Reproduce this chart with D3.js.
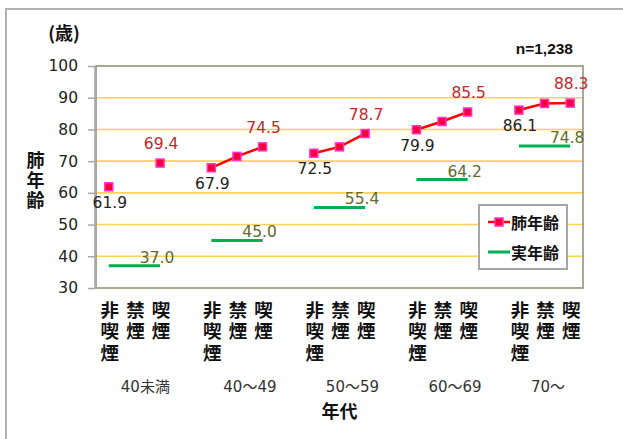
<!DOCTYPE html>
<html>
<head>
<meta charset="utf-8">
<script src="https://cdn.jsdelivr.net/npm/d3@7"></script>
<style>
  body { margin: 0; background: #fff; }
  svg { display: block; }
</style>
</head>
<body>
<svg id="chart" width="623" height="439"></svg>
<script>
// Lung age vs. actual age by age group and smoking status
const ageGroups = ["40未満", "40～49", "50～59", "60～69", "70～"];
const smokingStatus = ["非喫煙", "禁煙", "喫煙"];
// lung age, three values (非喫煙, 禁煙, 喫煙) per age group; null = not shown
const lungAge = [
  61.9, null, 69.4,
  67.9, 71.5, 74.5,
  72.5, 74.5, 78.7,
  79.9, 82.5, 85.5,
  86.1, 88.2, 88.3
];
// actual (real) mean age per age group
const realAge = [37.0, 45.0, 55.4, 64.2, 74.8];
const yTicks = [30, 40, 50, 60, 70, 80, 90, 100];
const gridTicks = [40, 50, 60, 70, 80, 90];
const sampleNote = "n=1,238";

const svg = d3.select("#chart");
const NUM_FONT = "'DejaVu Sans', 'Noto Sans CJK JP', sans-serif";
const JP_FONT = "'Noto Sans CJK JP', 'DejaVu Sans', sans-serif";

const plot = { left: 96, right: 583, top: 66, bottom: 288 };

// outer frame of the figure
svg.append("rect")
  .attr("x", 6).attr("y", 9).attr("width", 700).attr("height", 500)
  .attr("fill", "#fff").attr("stroke", "#b3b3b3").attr("stroke-width", 2);

// category slots: three statuses per group, with a blank slot between groups
const slots = [];
ageGroups.forEach((g, gi) => {
  smokingStatus.forEach(s => slots.push(g + "|" + s));
  if (gi < ageGroups.length - 1) slots.push(g + "|gap");
});

const x = d3.scaleBand().domain(slots).range([plot.left, plot.right]).padding(0);
const cx = key => x(key) + x.bandwidth() / 2;
const y = d3.scaleLinear().domain([30, 100]).range([plot.bottom, plot.top]);

// vertical (top-to-bottom) text; (x0, top) is the centre line and top edge
function verticalText(sel, str, x0, top, fontSize, step) {
  return sel.append("text")
    .attr("x", x0).attr("y", top)
    .attr("writing-mode", "vertical-rl")
    .attr("text-anchor", "start").attr("dominant-baseline", "central")
    .style("letter-spacing", (step - fontSize) + "px")
    .attr("font-size", fontSize + "px")
    .text(str);
}

// grid lines
svg.append("g").selectAll("line").data(gridTicks).join("line")
  .attr("x1", plot.left).attr("x2", plot.right)
  .attr("y1", d => y(d)).attr("y2", d => y(d))
  .attr("stroke", "#ffd05a").attr("stroke-width", 1.6);

// plot area border
svg.append("rect")
  .attr("x", plot.left).attr("y", plot.top)
  .attr("width", plot.right - plot.left).attr("height", plot.bottom - plot.top)
  .attr("fill", "none").attr("stroke", "#8f8a72").attr("stroke-width", 1.5);

// y axis
const yAxis = svg.append("g")
  .attr("transform", `translate(${plot.left - 1},0)`)
  .call(d3.axisLeft(y).tickValues(yTicks).tickSize(7).tickPadding(10).tickSizeOuter(0));
yAxis.select(".domain").attr("stroke", "#a6a6a6").attr("stroke-width", 2.5);
yAxis.selectAll(".tick line").attr("stroke", "#a6a6a6").attr("stroke-width", 1.5);
yAxis.selectAll(".tick text")
  .attr("font-family", NUM_FONT).attr("font-size", "15.5px").attr("fill", "#222");

// records for the lung-age series
const records = [];
ageGroups.forEach((g, gi) => {
  smokingStatus.forEach((s, si) => {
    records.push({ g, gi, s, si, key: g + "|" + s, v: lungAge[gi * 3 + si] });
  });
});

// actual-age segments, one per group
ageGroups.forEach((g, gi) => {
  const first = g + "|" + smokingStatus[0];
  const last = g + "|" + smokingStatus[smokingStatus.length - 1];
  svg.append("line")
    .attr("x1", cx(first)).attr("x2", cx(last))
    .attr("y1", y(realAge[gi])).attr("y2", y(realAge[gi]))
    .attr("stroke", "#00b050").attr("stroke-width", 3);
  svg.append("text")
    .attr("x", cx(last) - 3).attr("y", y(realAge[gi]) - 8)
    .attr("text-anchor", "middle").attr("dominant-baseline", "central")
    .attr("font-family", NUM_FONT).attr("font-size", "15.5px").attr("fill", "#5e6b2b")
    .text(realAge[gi].toFixed(1));
});

// lung-age lines, one per group
const line = d3.line().defined(d => d.v != null).x(d => cx(d.key)).y(d => y(d.v));
ageGroups.forEach((g, gi) => {
  svg.append("path")
    .datum(records.filter(r => r.gi === gi))
    .attr("d", line)
    .attr("fill", "none").attr("stroke", "#ff0000").attr("stroke-width", 2.5);
});

// markers
svg.append("g").selectAll("rect").data(records.filter(r => r.v != null)).join("rect")
  .attr("x", d => cx(d.key) - 4).attr("y", d => y(d.v) - 4)
  .attr("width", 8).attr("height", 8)
  .attr("fill", "#f5003a").attr("stroke", "#ff33cc").attr("stroke-width", 1.5);

// value labels: first status below in black, last status above in red
records.filter(r => r.v != null && r.si !== 1).forEach(r => {
  const below = r.si === 0;
  svg.append("text")
    .attr("x", cx(r.key) + 1).attr("y", y(r.v) + (below ? 16 : -19))
    .attr("text-anchor", "middle").attr("dominant-baseline", "central")
    .attr("font-family", NUM_FONT).attr("font-size", "15.5px")
    .attr("fill", below ? "#222" : "#c4262e")
    .text(r.v.toFixed(1));
});

// x category labels, written vertically
const catLabels = svg.append("g")
  .attr("font-family", JP_FONT).attr("font-weight", "bold").attr("fill", "#111");
records.forEach(r => verticalText(catLabels, r.s, cx(r.key) + 1, 301, 18.5, 21.2));

// age group labels
ageGroups.forEach(g => {
  svg.append("text")
    .attr("x", cx(g + "|" + smokingStatus[0]) + 12).attr("y", 387)
    .attr("dominant-baseline", "central")
    .attr("font-family", NUM_FONT).attr("font-size", "15px").attr("fill", "#333")
    .text(g);
});

// axis titles
svg.append("text")
  .attr("x", (plot.left + plot.right) / 2).attr("y", 410)
  .attr("text-anchor", "middle").attr("dominant-baseline", "central")
  .attr("font-family", JP_FONT).attr("font-size", "18px").attr("font-weight", "bold")
  .attr("fill", "#111").text("年代");

const yTitle = svg.append("g")
  .attr("font-family", JP_FONT).attr("font-weight", "bold").attr("fill", "#111");
verticalText(yTitle, "肺年齢", 35.5, 151, 18, 20);

svg.append("text")
  .attr("x", 64).attr("y", 32)
  .attr("text-anchor", "middle").attr("dominant-baseline", "central")
  .attr("font-family", JP_FONT).attr("font-size", "18px").attr("font-weight", "bold")
  .attr("fill", "#111").text("(歳)");

svg.append("text")
  .attr("x", 573).attr("y", 48.5)
  .attr("text-anchor", "end").attr("dominant-baseline", "central")
  .attr("font-family", "'Liberation Sans', Arial, sans-serif").attr("font-size", "15.5px")
  .attr("font-weight", "bold").attr("fill", "#111").text(sampleNote);

// legend
const legend = svg.append("g");
legend.append("rect")
  .attr("x", 479).attr("y", 205).attr("width", 88).attr("height", 64)
  .attr("fill", "#fff").attr("stroke", "#a6a6a6").attr("stroke-width", 2);
const legendItems = [
  { label: "肺年齢", color: "#ff0000", marker: true, yy: 222 },
  { label: "実年齢", color: "#00b050", marker: false, yy: 252 }
];
legendItems.forEach(it => {
  legend.append("line")
    .attr("x1", 488).attr("x2", 510).attr("y1", it.yy).attr("y2", it.yy)
    .attr("stroke", it.color).attr("stroke-width", it.marker ? 2.5 : 3);
  if (it.marker) {
    legend.append("rect")
      .attr("x", 495).attr("y", it.yy - 4).attr("width", 8).attr("height", 8)
      .attr("fill", "#f5003a").attr("stroke", "#ff33cc").attr("stroke-width", 1.5);
  }
  legend.append("text")
    .attr("x", 511).attr("y", it.yy)
    .attr("dominant-baseline", "central")
    .attr("font-family", JP_FONT).attr("font-size", "16px").attr("font-weight", "bold")
    .attr("fill", "#111").text(it.label);
});
</script>
</body>
</html>
